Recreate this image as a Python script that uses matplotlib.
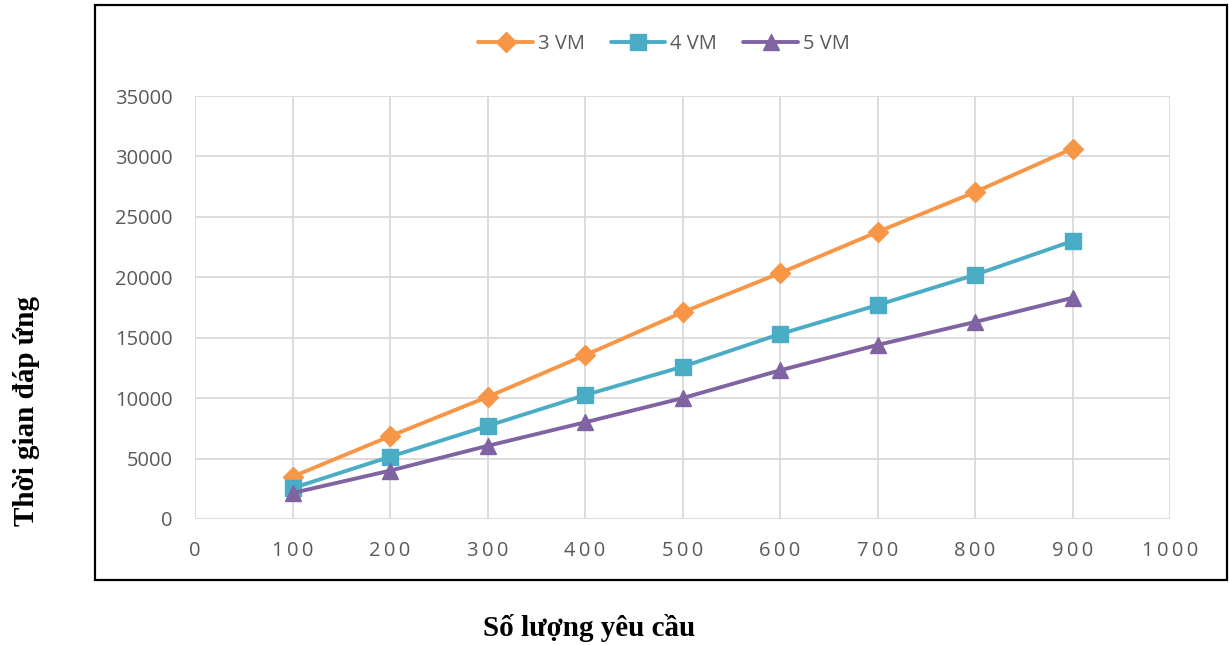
import matplotlib

matplotlib.use("Agg")
import matplotlib.pyplot as plt
from matplotlib.patches import Rectangle

# data
requests = [100, 200, 300, 400, 500, 600, 700, 800, 900]
vm3 = [3500, 6850, 10100, 13550, 17100, 20350, 23750, 27050, 30650]
vm4 = [2550, 5150, 7700, 10250, 12600, 15300, 17700, 20200, 23000]
vm5 = [2150, 4000, 6050, 8000, 10000, 12300, 14400, 16300, 18300]
series_names = ["3 VM", "4 VM", "5 VM"]

colors = ["#F79646", "#4BACC6", "#8064A2"]
markers = ["D", "s", "^"]
msizes = [10.5, 11.5, 12]
tick_grey = "#595959"
tick_font = ["Open Sans", "DejaVu Sans"]

W, H = 1229, 645
fig = plt.figure(figsize=(W / 100, H / 100), dpi=100)

# plot area in pixels: x 195..1170, y 96..519
ax = fig.add_axes([195 / W, 1 - 519 / H, (1170 - 195) / W, (519 - 96) / H])

for vals, name, c, m, ms in zip([vm3, vm4, vm5], series_names, colors, markers, msizes):
    ax.plot(requests, vals, color=c, lw=2.8, marker=m, ms=ms, label=name,
            solid_capstyle="round", zorder=3)

ax.set_xlim(0, 1000)
ax.set_ylim(0, 35000)
xt = list(range(0, 1001, 100))
ax.set_xticks(xt)
# Excel spreads the x labels out a little
ax.set_xticklabels(["\u2009".join(str(v)) for v in xt])
ax.set_yticks(range(0, 35001, 5000))
ax.grid(True, color="#D9D9D9", lw=1.3)
ax.set_axisbelow(True)
for s in ax.spines.values():
    s.set_visible(False)
ax.tick_params(length=0, labelsize=14.5, labelcolor=tick_grey)
ax.tick_params(axis="x", pad=16)
ax.tick_params(axis="y", pad=16)
for lab in ax.get_xticklabels() + ax.get_yticklabels():
    lab.set_family(tick_font)

leg = ax.legend(loc="center", ncol=3, frameon=False,
                prop={"family": "Open Sans", "size": 14.5},
                handlelength=2.7, columnspacing=1.3, handletextpad=0.25)
leg.set_bbox_to_anchor((664 / W, 1 - 44 / H), transform=fig.transFigure)
for t in leg.get_texts():
    t.set_color(tick_grey)

# outer chart border
fig.patches.append(Rectangle((95 / W, 1 - 580 / H), (1227 - 95) / W, (580 - 5) / H,
                             transform=fig.transFigure, fill=False, ec="black", lw=1.6))

fig.text(27 / W, 1 - 411 / H, "Thời gian đáp ứng", rotation=90, ha="center", va="center",
         family="Liberation Serif", weight="bold", fontsize=21)
fig.text(589 / W, 1 - 628 / H, "Số lượng yêu cầu", ha="center", va="center",
         family="Liberation Serif", weight="bold", fontsize=21)

fig.savefig("out.png", dpi=100)
